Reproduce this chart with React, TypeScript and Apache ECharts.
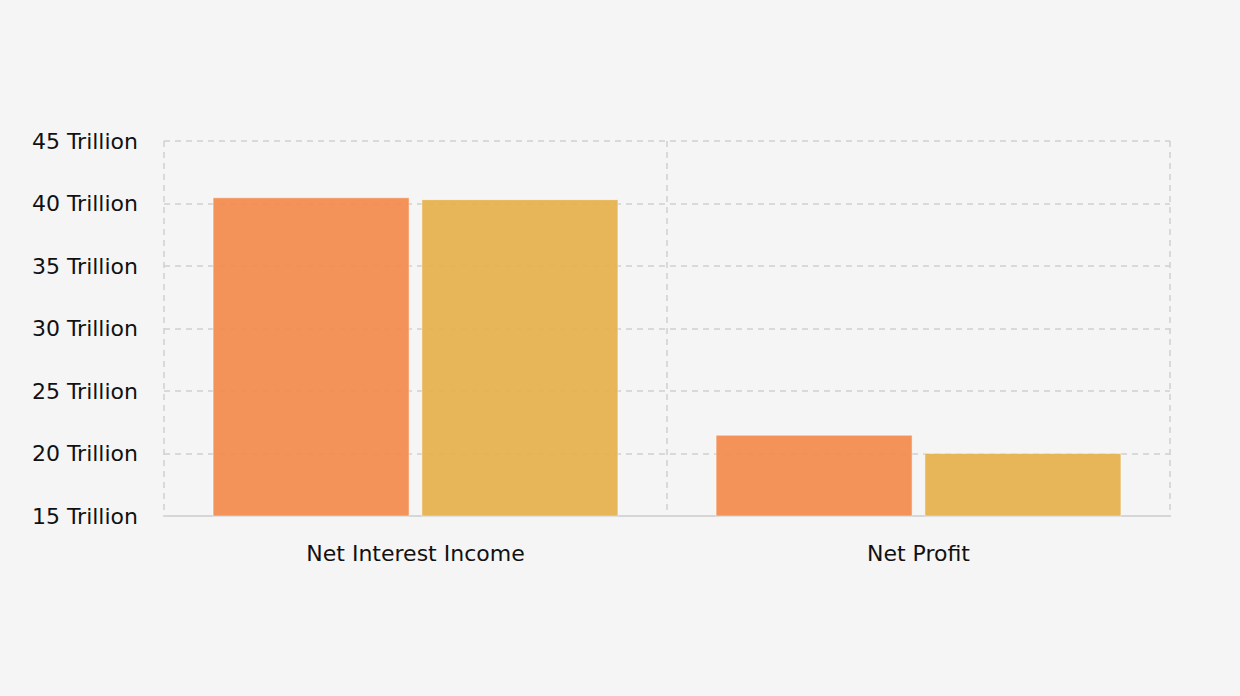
import React, { useEffect, useRef } from "react";
import * as echarts from "echarts";

const categories = ["Net Interest Income", "Net Profit"];
const seriesA = [40.5, 21.5];
const seriesB = [40.35, 20.05];
const colors = ["#f28c50", "#e6b24f"];

export default function App() {
  const ref = useRef<HTMLDivElement>(null);
  useEffect(() => {
    const chart = echarts.init(ref.current!, null, { renderer: "svg" });
    chart.setOption({
      animation: false,
      backgroundColor: "#f5f5f5",
      textStyle: { fontFamily: "DejaVu Sans" },
      grid: { left: 164, right: 70, top: 141, bottom: 180 },
      xAxis: {
        type: "category",
        data: categories,
        axisLine: { lineStyle: { color: "#d6d6d6", width: 2 } },
        axisTick: { alignWithLabel: true, length: 8, lineStyle: { color: "#d6d6d6", width: 2 } },
        axisLabel: { color: "#111", fontSize: 22, margin: 26 },
        splitLine: { show: true, lineStyle: { color: "#cfcfcf", type: [6, 5], width: 1.5 } },
      },
      yAxis: {
        type: "value",
        min: 15,
        max: 45,
        interval: 5,
        axisLine: { show: false },
        axisTick: { show: false },
        axisLabel: { color: "#111", fontSize: 22, margin: 26, formatter: (v: number) => `${v} Trillion` },
        splitLine: { lineStyle: { color: "#cfcfcf", type: [6, 5], width: 1.5 } },
      },
      series: [
        {
          type: "bar",
          data: seriesA,
          barWidth: 197,
          barGap: "6%",
          itemStyle: { color: colors[0], opacity: 0.95, borderColor: "rgba(255,255,255,0.5)", borderWidth: 1 },
        },
        {
          type: "bar",
          data: seriesB,
          barWidth: 197,
          itemStyle: { color: colors[1], opacity: 0.95, borderColor: "rgba(255,255,255,0.5)", borderWidth: 1 },
        },
      ],
    });
    return () => chart.dispose();
  }, []);
  return <div ref={ref} style={{ width: 1240, height: 696, position: "absolute", left: 0, top: 0 }} />;
}
